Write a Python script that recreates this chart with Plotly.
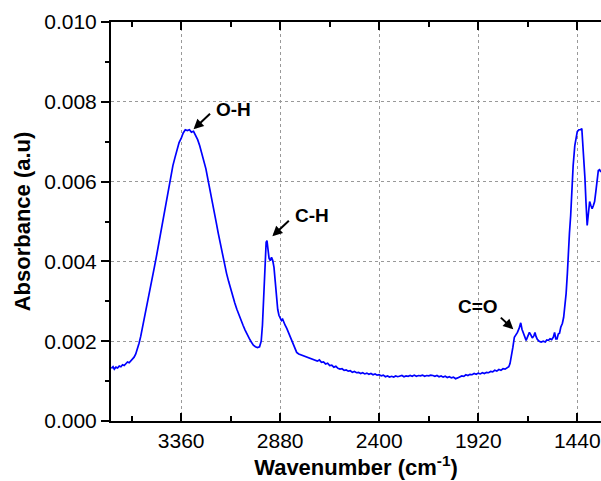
import plotly.graph_objects as go

# FTIR spectrum
wavenumber = [
    3698, 3690, 3684, 3676, 3668, 3660, 3652, 3644, 3636, 3628, 3620, 3612, 3604, 3596, 3588,
    3580, 3572, 3564, 3556, 3548, 3540, 3530, 3520, 3510, 3500, 3490, 3480, 3470, 3460, 3450,
    3440, 3430, 3420, 3410, 3400, 3390, 3380, 3370, 3360, 3350, 3340, 3330, 3320, 3310, 3300,
    3290, 3280, 3270, 3260, 3250, 3240, 3230, 3220, 3210, 3200, 3190, 3180, 3170, 3160, 3150,
    3140, 3130, 3120, 3110, 3100, 3090, 3080, 3070, 3060, 3050, 3040, 3030, 3020, 3010, 3000,
    2990, 2980, 2972, 2966, 2960, 2954, 2948, 2944, 2940, 2934, 2928, 2922, 2916, 2910, 2904,
    2898, 2892, 2886, 2880, 2874, 2868, 2862, 2856, 2848, 2840, 2832, 2824, 2816, 2808, 2800,
    2790, 2780, 2770, 2760, 2750, 2740, 2730, 2720, 2710, 2700, 2690, 2680, 2670, 2660, 2650,
    2640, 2630, 2620, 2610, 2600, 2590, 2580, 2570, 2560, 2550, 2540, 2530, 2520, 2510, 2500,
    2490, 2480, 2470, 2460, 2450, 2440, 2430, 2420, 2410, 2400, 2390, 2380, 2370, 2360, 2350,
    2340, 2330, 2320, 2310, 2300, 2290, 2280, 2270, 2260, 2250, 2240, 2230, 2220, 2210, 2200,
    2190, 2180, 2170, 2160, 2150, 2140, 2130, 2120, 2110, 2100, 2090, 2080, 2070, 2060, 2050,
    2040, 2030, 2020, 2010, 2000, 1990, 1980, 1970, 1960, 1950, 1940, 1930, 1920, 1910, 1900,
    1890, 1880, 1870, 1860, 1850, 1840, 1830, 1820, 1810, 1800, 1790, 1780, 1772, 1766, 1760,
    1752, 1745, 1738, 1730, 1722, 1714, 1708, 1702, 1695, 1688, 1680, 1672, 1665, 1658, 1650,
    1645, 1640, 1634, 1625, 1615, 1605, 1595, 1588, 1580, 1572, 1564, 1556, 1550, 1544, 1538,
    1532, 1526, 1520, 1512, 1506, 1500, 1494, 1488, 1484, 1478, 1472, 1466, 1460, 1452, 1446,
    1440, 1432, 1424, 1418, 1413, 1408, 1403, 1398, 1392, 1386, 1380, 1374, 1368, 1362, 1356,
    1350, 1344, 1338, 1332, 1326,
]
absorbance = [
    0.00132, 0.00136, 0.00130, 0.00135, 0.00133, 0.00138, 0.00136, 0.00141, 0.00139, 0.00145, 0.00148, 0.00146, 0.00151, 0.00156, 0.00160,
    0.00168, 0.00180, 0.00195, 0.00212, 0.00232, 0.00255, 0.00280, 0.00305, 0.00330, 0.00356, 0.00385, 0.00412, 0.00440, 0.00470, 0.00500,
    0.00530, 0.00560, 0.00590, 0.00618, 0.00640, 0.00660, 0.00680, 0.00698, 0.00708, 0.00722, 0.00730, 0.00728, 0.00730, 0.00724, 0.00726,
    0.00716, 0.00705, 0.00690, 0.00672, 0.00655, 0.00632, 0.00605, 0.00580, 0.00552, 0.00525, 0.00498, 0.00470, 0.00444, 0.00418, 0.00393,
    0.00370, 0.00350, 0.00330, 0.00312, 0.00296, 0.00280, 0.00265, 0.00252, 0.00240, 0.00228, 0.00216, 0.00207, 0.00198, 0.00190, 0.00186,
    0.00184, 0.00186, 0.00200, 0.00240, 0.00320, 0.00400, 0.00448, 0.00452, 0.00430, 0.00408, 0.00402, 0.00410, 0.00402, 0.00385, 0.00350,
    0.00310, 0.00280, 0.00265, 0.00260, 0.00252, 0.00255, 0.00245, 0.00240, 0.00232, 0.00222, 0.00212, 0.00200, 0.00190, 0.00180, 0.00172,
    0.00168, 0.00166, 0.00164, 0.00162, 0.00160, 0.00158, 0.00156, 0.00154, 0.00152, 0.00150, 0.00153, 0.00147, 0.00148, 0.00143, 0.00145,
    0.00139, 0.00140, 0.00135, 0.00137, 0.00132, 0.00130, 0.00131, 0.00127, 0.00128, 0.00125, 0.00126, 0.00122, 0.00124, 0.00121, 0.00122,
    0.00119, 0.00121, 0.00118, 0.00120, 0.00117, 0.00119, 0.00116, 0.00118, 0.00115, 0.00116, 0.00113, 0.00115, 0.00111, 0.00113, 0.00110,
    0.00112, 0.00110, 0.00113, 0.00111, 0.00112, 0.00114, 0.00111, 0.00113, 0.00112, 0.00114, 0.00112, 0.00115, 0.00112, 0.00114, 0.00113,
    0.00115, 0.00112, 0.00114, 0.00113, 0.00115, 0.00114, 0.00112, 0.00114, 0.00111, 0.00113, 0.00110, 0.00112, 0.00109, 0.00111, 0.00108,
    0.00110, 0.00106, 0.00108, 0.00111, 0.00113, 0.00112, 0.00116, 0.00114, 0.00117, 0.00116, 0.00119, 0.00117, 0.00120, 0.00118, 0.00121,
    0.00119, 0.00122, 0.00121, 0.00124, 0.00123, 0.00127, 0.00125, 0.00129, 0.00127, 0.00131, 0.00130, 0.00134, 0.00136, 0.00144, 0.00160,
    0.00185, 0.00210, 0.00215, 0.00222, 0.00232, 0.00246, 0.00230, 0.00222, 0.00210, 0.00202, 0.00212, 0.00222, 0.00216, 0.00208, 0.00214,
    0.00222, 0.00212, 0.00205, 0.00200, 0.00198, 0.00200, 0.00198, 0.00203, 0.00202, 0.00206, 0.00204, 0.00210, 0.00222, 0.00206, 0.00206,
    0.00218, 0.00220, 0.00235, 0.00245, 0.00260, 0.00285, 0.00320, 0.00370, 0.00420, 0.00470, 0.00515, 0.00580, 0.00640, 0.00690, 0.00712,
    0.00725, 0.00730, 0.00730, 0.00733, 0.00700, 0.00660, 0.00610, 0.00550, 0.00490, 0.00520, 0.00550, 0.00540, 0.00532, 0.00540, 0.00550,
    0.00575, 0.00605, 0.00628, 0.00630, 0.00624,
]

x_ticks = [3360, 2880, 2400, 1920, 1440]
y_ticks = [0.000, 0.002, 0.004, 0.006, 0.008, 0.010]
y_tick_labels = ["0.000", "0.002", "0.004", "0.006", "0.008", "0.010"]

# peak labels: text position, arrow tip, arrow tail offset (pixels)
labels = ["O-H", "C-H", "C=O"]
label_x = [3108, 2725, 1923]
label_y = [0.00781, 0.00516, 0.00286]
tip_x = [3300, 2918, 1750]
tip_y = [0.00731, 0.00463, 0.00230]
tail_dx = [18, 18, -14]
tail_dy = [-17, -17, -13]

FONT = "Arial, Liberation Sans, sans-serif"

fig = go.Figure()
fig.add_trace(go.Scatter(x=wavenumber, y=absorbance, mode="lines",
                         line=dict(color="#0000FF", width=1.7), showlegend=False))

for t, lx, ly, tx, ty, dx, dy in zip(labels, label_x, label_y, tip_x, tip_y, tail_dx, tail_dy):
    fig.add_annotation(x=lx, y=ly, text="<b>%s</b>" % t, showarrow=False,
                       font=dict(family=FONT, size=19, color="black"))
    fig.add_annotation(x=tx, y=ty, text="", showarrow=True, ax=dx, ay=dy,
                       arrowhead=2, arrowsize=1, arrowwidth=2, arrowcolor="black")

fig.update_layout(
    width=601, height=481,
    margin=dict(l=111, r=0, t=22, b=60),
    paper_bgcolor="white", plot_bgcolor="white",
    font=dict(family=FONT, size=21, color="black"),
    xaxis=dict(
        range=[3700, 1325], tickvals=x_ticks, ticktext=[str(v) for v in x_ticks],
        ticks="inside", ticklen=8, tickwidth=2, tickcolor="black",
        minor=dict(dtick=240, tick0=1440, ticks="inside", ticklen=5, tickwidth=2, tickcolor="black", showgrid=False),
        showline=True, linewidth=2, linecolor="black", mirror="allticks",
        showgrid=True, gridcolor="#999999", gridwidth=1, griddash="3px,3px",
        zeroline=False, automargin=False,
        title=dict(text="<b>Wavenumber (cm<sup>-1</sup>)</b>", font=dict(size=22), standoff=5),
    ),
    yaxis=dict(
        range=[0, 0.010], tickvals=y_ticks, ticktext=y_tick_labels,
        ticks="outside", ticklen=8, tickwidth=2, tickcolor="black",
        minor=dict(dtick=0.001, tick0=0, ticks="outside", ticklen=4, tickwidth=2, tickcolor="black", showgrid=False),
        showline=True, linewidth=2, linecolor="black", mirror=False,
        showgrid=True, gridcolor="#999999", gridwidth=1, griddash="3px,3px",
        zeroline=False, automargin=False,
        title=dict(text="<b>Absorbance (a.u)</b>", font=dict(size=22), standoff=8),
    ),
)

# remove the default page margin so the 601x481 figure fills the window exactly
fig.write_html("out.html",
               config={"displayModeBar": False},
               post_script="document.body.style.margin='0';document.body.style.overflow='hidden';")
